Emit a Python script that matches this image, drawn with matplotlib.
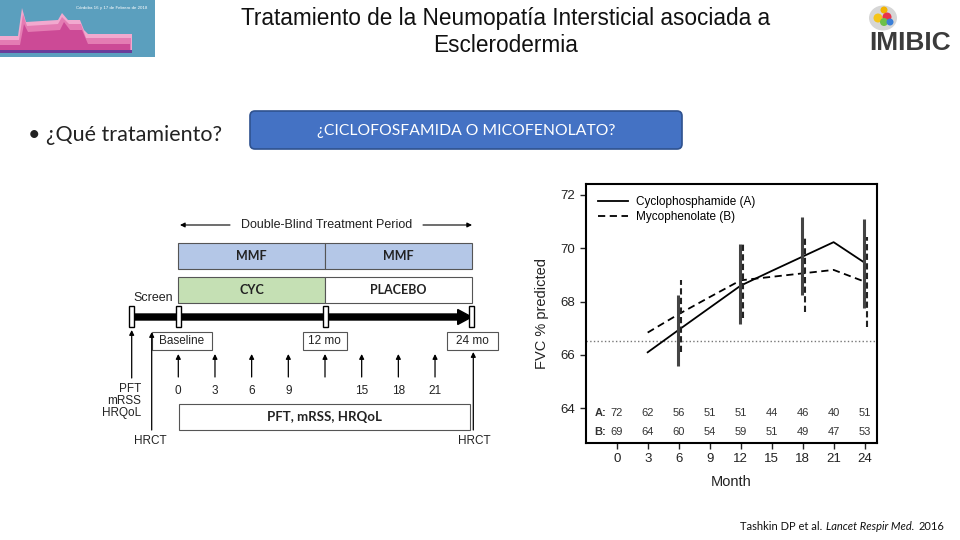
import matplotlib.pyplot as plt
from matplotlib.patches import Rectangle, FancyBboxPatch, Polygon, Circle, Ellipse, FancyArrow

# FVC % predicted over time (Tashkin 2016, SLS II)
months = [3, 6, 9, 12, 15, 18, 21, 24]
fvc_cyc = [66.10, 66.94, 67.77, 68.60, 69.15, 69.69, 70.23, 69.46]
fvc_mmf = [66.84, 67.53, 68.17, 68.80, 68.93, 69.06, 69.19, 68.75]

bar_months = [6, 12, 18, 24]
cyc_low = [65.59, 67.15, 68.25, 67.75]
cyc_high = [68.25, 70.15, 71.19, 71.09]
mmf_low = [66.12, 67.40, 67.62, 67.06]
mmf_high = [68.81, 70.15, 70.44, 70.41]

count_months = [0, 3, 6, 9, 12, 15, 18, 21, 24]
n_cyc = [72, 62, 56, 51, 51, 44, 46, 40, 51]
n_mmf = [69, 64, 60, 54, 59, 51, 49, 47, 53]
baseline_fvc = 66.54

# study design diagram
visit_months = [0, 3, 6, 9, 12, 15, 18, 21]

ARIAL = 'Liberation Sans'
CALIBRI = 'Lato'

fig = plt.figure(figsize=(9.6, 5.4), dpi=100)
fig.patch.set_facecolor('white')

# slide canvas in pixel coordinates
bg = fig.add_axes([0, 0, 1, 1])
bg.set_xlim(0, 960)
bg.set_ylim(540, 0)
bg.axis('off')

# banner top-left
bg.add_patch(Rectangle((0, 0), 155, 57, fc='#5b9fbe', ec='none'))
sky_light = [(0, 53), (0, 36), (18, 36), (22, 8), (26, 22), (58, 20), (62, 13), (68, 20), (80, 20), (84, 30),
             (88, 34), (132, 34), (132, 53)]
sky_mid = [(0, 53), (0, 40), (19, 40), (23, 14), (27, 26), (58, 24), (62, 17), (69, 24), (81, 24), (86, 38),
           (131, 38), (131, 53)]
sky_dark = [(0, 53), (0, 45), (20, 45), (24, 24), (28, 32), (60, 30), (64, 22), (70, 30), (82, 30), (88, 44),
            (130, 44), (130, 53)]
bg.add_patch(Polygon(sky_light, fc='#f2a9cf', ec='none'))
bg.add_patch(Polygon(sky_mid, fc='#e47cb3', ec='none'))
bg.add_patch(Polygon(sky_dark, fc='#cc4a96', ec='none'))
bg.add_patch(Rectangle((0, 50), 132, 3, fc='#6b3d9a', ec='none'))
bg.text(112, 8, 'Córdoba 16 y 17 de Febrero de 2018', fontsize=3.2, color='white', ha='center', va='center',
        family=ARIAL)

# IMIBIC logo
bg.add_patch(Ellipse((883, 18), 28, 25, fc='#d6d6d6', ec='none'))
bg.add_patch(Circle((884, 10), 3.5, fc='#f2b300', ec='none'))
bg.add_patch(Circle((878, 18), 4.5, fc='#f5c518', ec='none'))
bg.add_patch(Circle((887, 17), 4.5, fc='#e8344a', ec='none'))
bg.add_patch(Circle((884, 22), 4, fc='#6cc04a', ec='none'))
bg.add_patch(Circle((890, 22), 3.5, fc='#3a7fd8', ec='none'))
bg.text(910, 43, 'IMIBIC', fontsize=19, fontweight='bold', color='#3b3b3b', ha='center', va='center',
        family=ARIAL)

# title
bg.text(506, 18, 'Tratamiento de la Neumopatía Intersticial asociada a', fontsize=16.3, ha='center',
        va='center', family=ARIAL, color='#111')
bg.text(506, 45, 'Esclerodermia', fontsize=16.3, ha='center', va='center', family=ARIAL, color='#111')

bg.text(28, 135, '• ¿Qué tratamiento?', fontsize=15.5, va='center', family=CALIBRI, color='#222')

bg.add_patch(FancyBboxPatch((250, 111), 432, 38, boxstyle='round,pad=0,rounding_size=5', fc='#4472c4',
                            ec='#2f528f', lw=1.2))
bg.text(466, 131, '¿CICLOFOSFAMIDA O MICOFENOLATO?', fontsize=11.3, color='white', ha='center', va='center',
        family=CALIBRI)

# design diagram
x0, x24 = 178.3, 471.7


def mx(m):
    return x0 + (x24 - x0) * m / 24


def up_arrow(x, y_from, y_to):
    bg.annotate('', xy=(x, y_to), xytext=(x, y_from),
                arrowprops=dict(arrowstyle='-|>', color='black', lw=0.9, mutation_scale=7,
                                shrinkA=0, shrinkB=0))


bg.annotate('', xy=(180, 225), xytext=(230, 225),
            arrowprops=dict(arrowstyle='-|>', color='black', lw=0.8, mutation_scale=7, shrinkA=0, shrinkB=0))
bg.annotate('', xy=(472, 225), xytext=(423, 225),
            arrowprops=dict(arrowstyle='-|>', color='black', lw=0.8, mutation_scale=7, shrinkA=0, shrinkB=0))
bg.text(326.5, 225, 'Double-Blind Treatment Period', fontsize=9, ha='center', va='center', family=ARIAL,
        color='#222')

xm = mx(12)
bg.add_patch(Rectangle((x0, 243.3), xm - x0, 26, fc='#b4c7e7', ec='#555', lw=0.8))
bg.add_patch(Rectangle((xm, 243.3), x24 - xm, 26, fc='#b4c7e7', ec='#555', lw=0.8))
bg.add_patch(Rectangle((x0, 276.7), xm - x0, 26, fc='#c5e0b4', ec='#555', lw=0.8))
bg.add_patch(Rectangle((xm, 276.7), x24 - xm, 26, fc='white', ec='#555', lw=0.8))
for label, x, y in [('MMF', (x0 + xm) / 2, 256.3), ('MMF', (xm + x24) / 2, 256.3),
                    ('CYC', (x0 + xm) / 2, 289.7), ('PLACEBO', (xm + x24) / 2, 289.7)]:
    bg.text(x, y, label, fontsize=9, fontweight='bold', ha='center', va='center', family=CALIBRI, color='#222')
bg.text(153, 298, 'Screen', fontsize=9, ha='center', va='center', family=ARIAL, color='#222')

bg.add_patch(FancyArrow(131, 317, x24 - 131, 0, width=6, head_width=15, head_length=14,
                        length_includes_head=True, fc='black', ec='black'))
for x in [131, x0, xm, x24]:
    bg.add_patch(Rectangle((x - 2.5, 306), 5, 21, fc='white', ec='black', lw=1, zorder=3))

for label, left, w in [('Baseline', 151.7, 60), ('12 mo', 302.7, 44), ('24 mo', 446.7, 51.6)]:
    bg.add_patch(Rectangle((left, 331.7), w, 18.3, fc='white', ec='#555', lw=0.8))
    bg.text(left + w / 2, 341, label, fontsize=8.5, ha='center', va='center', family=ARIAL, color='#222')

for m in visit_months:
    up_arrow(mx(m), 377, 354)
    if m != 12:
        bg.text(mx(m), 390.7, str(m), fontsize=8.5, ha='center', va='center', family=ARIAL, color='#222')

up_arrow(131.7, 378, 330)
bg.text(141, 401, 'PFT\nmRSS\nHRQoL', fontsize=8.5, ha='right', va='center', family=ARIAL, linespacing=1.05,
        color='#222')
up_arrow(151.7, 430, 332)
bg.text(150, 441, 'HRCT', fontsize=8.5, ha='center', va='center', family=ARIAL, color='#222')
up_arrow(473.3, 430, 352)
bg.text(474, 441, 'HRCT', fontsize=8.5, ha='center', va='center', family=ARIAL, color='#222')

bg.add_patch(Rectangle((179.3, 404), 290.7, 26, fc='white', ec='#555', lw=0.8))
bg.text(324.7, 417, 'PFT, mRSS, HRQoL', fontsize=9.5, fontweight='bold', ha='center', va='center',
        family=CALIBRI, color='#222')

# citation, pieces chained one after another
renderer = fig.canvas.get_renderer()
cx = 740
for piece, style in [('Tashkin DP et al.', 'normal'), ('Lancet Respir Med.', 'italic'), ('2016', 'normal')]:
    t = bg.text(cx, 527, piece, fontsize=8, va='center', family=CALIBRI, style=style, color='#111')
    cx = t.get_window_extent(renderer).x1 + 4

# FVC chart
ax = fig.add_axes([585.7 / 960, (540 - 442.7) / 540, (877 - 585.7) / 960, (442.7 - 184.3) / 540])
ax.set_xlim(-3.0, 25.2)
ax.set_ylim(62.71, 72.40)

ax.axhline(baseline_fvc, color='#777', lw=1, ls=':')
ax.plot(months, fvc_cyc, color='black', lw=1.3, label='Cyclophosphamide (A)')
ax.plot(months, fvc_mmf, color='black', lw=1.3, ls=(0, (4, 2.5)), label='Mycophenolate (B)')
ax.vlines([m - 0.05 for m in bar_months], cyc_low, cyc_high, color='#444', lw=2.2)
ax.vlines([m + 0.2 for m in bar_months], mmf_low, mmf_high, color='#222', lw=1.5, linestyles=(0, (3, 1.6)))

for m, a, b in zip(count_months, n_cyc, n_mmf):
    ax.text(m, 63.81, str(a), fontsize=8, ha='center', va='center', color='#333', family=ARIAL)
    ax.text(m, 63.12, str(b), fontsize=8, ha='center', va='center', color='#333', family=ARIAL)
ax.text(-1.6, 63.81, 'A:', fontsize=8, fontweight='bold', ha='center', va='center', color='#333', family=ARIAL)
ax.text(-1.6, 63.12, 'B:', fontsize=8, fontweight='bold', ha='center', va='center', color='#333', family=ARIAL)

ax.set_yticks([64, 66, 68, 70, 72])
ax.set_xticks(count_months)
ax.tick_params(labelsize=9.5, length=4, width=1, colors='#222')
for lab in ax.get_xticklabels() + ax.get_yticklabels():
    lab.set_family(ARIAL)
for s in ax.spines.values():
    s.set_linewidth(1.5)
ax.set_ylabel('FVC % predicted', fontsize=10.5, family=ARIAL, color='#222')
ax.yaxis.set_label_coords(-0.125, 0.5)
ax.set_xlabel('Month', fontsize=10.5, family=ARIAL, color='#222')
ax.xaxis.set_label_coords(0.5, -0.125)
ax.legend(loc='upper left', frameon=False, handlelength=2.6, prop={'family': ARIAL, 'size': 8.5},
          borderaxespad=0.6, labelspacing=0.25, handletextpad=0.7)

fig.savefig('out.png', dpi=100)
